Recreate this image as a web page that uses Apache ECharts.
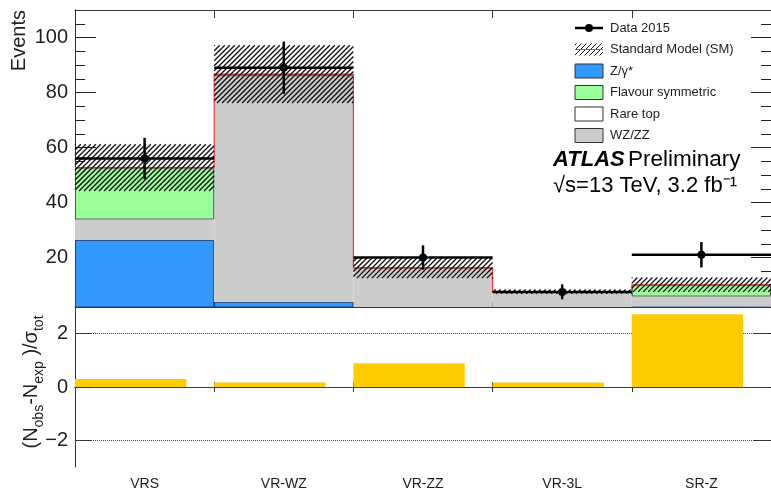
<!DOCTYPE html>
<html>
<head>
<meta charset="utf-8">
<title>Event yields per region</title>
<script src="https://cdn.jsdelivr.net/npm/echarts@6/dist/echarts.min.js"></script>
<style>
  html, body { margin: 0; padding: 0; background: #fff; }
  #chart { width: 771px; height: 491px; }
</style>
</head>
<body>
<div id="chart"></div>
<script>
// Regions (bins) along the x axis
const regions = ['VRS', 'VR-WZ', 'VR-ZZ', 'VR-3L', 'SR-Z'];

// Stacked background expectations per region
const zGamma     = [26.4, 3.9, 0, 0, 2.2];
const wzZZ       = [7.2, 81.9, 16.1, 7.3, 3.5];
const rareTop    = [0.2, 0.1, 0.1, 0.1, 0.1];
const flavourSym = [18.9, 0.8, 0, 0.2, 4.3];

// Uncertainty on the total Standard Model expectation
const smError = [8.5, 10.5, 3.7, 0.8, 2.6];

// Observed data and its statistical error
const data2015  = [56, 89, 20, 7.5, 21];
const dataError = [7.5, 9.5, 4.4, 2.7, 4.6];

// Significance (N_obs - N_exp) / sigma_tot
const pull = [0.3, 0.17, 0.89, 0.17, 2.73];

// Axis tick values
const eventTicks      = [20, 40, 60, 80, 100];
const eventMinorTicks = [5, 10, 15, 25, 30, 35, 45, 50, 55, 65, 70, 75, 85, 90, 95, 105];
const pullTicks       = [-2, 0, 2];

// Legend entries
const legendNames = ['Data 2015', 'Standard Model (SM)', 'Z/\u03b3*', 'Flavour symmetric', 'Rare top', 'WZ/ZZ'];

const FONT = '"Liberation Sans", Arial, Helvetica, sans-serif';
const TXT = '#1e1e1e';
const C_BLUE = '#3399ff', C_GREEN = '#99ff99', C_GRAY = '#cccccc', C_RED = '#ff3333', C_YELLOW = '#ffcc00';
const HATCH_STEP = 5;

const smTotal = regions.map((_, i) => zGamma[i] + wzZZ[i] + rareTop[i] + flavourSym[i]);

function stackBar(name, values, color, border) {
  return {
    name, type: 'bar', stack: 'sm', xAxisIndex: 0, yAxisIndex: 0,
    data: values, barCategoryGap: '0%', barGap: '-100%', clip: true, silent: true,
    itemStyle: { color, borderColor: border || color, borderWidth: border ? 1 : 0 },
    z: 2
  };
}

function valueAxis(grid, pos, min, max, ticks, len, labels) {
  return {
    type: 'value', gridIndex: grid, position: pos, min, max,
    splitLine: { show: false },
    axisLine: { show: true, lineStyle: { color: '#333', width: 1 } },
    axisTick: { show: true, inside: true, length: len, customValues: ticks, lineStyle: { color: '#222', width: 1 } },
    axisLabel: labels ? {
      show: true, customValues: ticks, margin: 7, fontFamily: FONT, fontSize: 20, color: TXT,
      formatter: v => (v < 0 ? '\u2212' + (-v) : String(v))
    } : { show: false }
  };
}

function catAxis(grid, pos, len, labels) {
  return {
    type: 'category', gridIndex: grid, position: pos, data: regions,
    axisLine: { show: true, lineStyle: { color: '#333', width: 1 } },
    axisTick: { show: true, inside: true, length: len, lineStyle: { color: '#333' } },
    axisLabel: labels ? { show: true, margin: 10, fontFamily: FONT, fontSize: 14, color: TXT } : { show: false },
    splitLine: { show: false }
  };
}

// "/" hatch strokes (x + y = const) clipped to a rectangle
function hatchStrokes(xl, yt, xr, yb, step, lineWidth) {
  const out = [];
  const cStart = Math.ceil((xl + yt) / step) * step;
  for (let c = cStart; c < xr + yb; c += step) {
    const xa = Math.max(xl, c - yb), xb = Math.min(xr, c - yt);
    if (xa < xb) {
      out.push({ type: 'line', shape: { x1: xa, y1: c - xa, x2: xb, y2: c - xb },
                 style: { stroke: '#111', lineWidth }, silent: true });
    }
  }
  return out;
}

function legendGraphics() {
  const x0 = 575, w = 28, tx = 610, y0 = 28, gap = 21.5;
  const g = [];
  const swatchFill = [null, null, C_BLUE, C_GREEN, '#ffffff', C_GRAY];
  legendNames.forEach((name, i) => {
    const cy = y0 + i * gap;
    if (i === 0) {
      g.push({ type: 'line', shape: { x1: x0, y1: cy, x2: x0 + w, y2: cy }, style: { stroke: '#000', lineWidth: 2.5 } });
      g.push({ type: 'circle', shape: { cx: x0 + w / 2, cy, r: 4 }, style: { fill: '#000' } });
    } else if (i === 1) {
      hatchStrokes(x0, cy - 6, x0 + w, cy + 6, 5, 1).forEach(e => g.push(e));
      g.push({ type: 'line', shape: { x1: x0, y1: cy, x2: x0 + w, y2: cy }, style: { stroke: C_RED, lineWidth: 1 } });
    } else {
      g.push({ type: 'rect', shape: { x: x0, y: cy - 7, width: w, height: 14 }, style: { fill: swatchFill[i], stroke: '#333', lineWidth: 1 } });
    }
    g.push({ type: 'text', x: tx, y: cy, style: { text: name, font: `13px ${FONT}`, fill: TXT, align: 'left', verticalAlign: 'middle' } });
  });
  return g;
}

const chart = echarts.init(document.getElementById('chart'), null, { renderer: 'canvas' });

const option = {
  animation: false,
  backgroundColor: '#ffffff',
  grid: [
    { left: 75, right: -4, top: 10, height: 297 },
    { left: 75, right: -4, top: 307, height: 160 }
  ],
  xAxis: [
    catAxis(0, 'bottom', 5, false),
    catAxis(0, 'top', 8, false),
    catAxis(1, 'bottom', 5, true),
    catAxis(1, 'top', 5, false)
  ],
  yAxis: [
    valueAxis(0, 'left', 2, 110, eventTicks, 21, true),
    valueAxis(0, 'left', 2, 110, eventMinorTicks, 10, false),
    valueAxis(0, 'right', 2, 110, eventTicks, 20, false),
    valueAxis(0, 'right', 2, 110, eventMinorTicks, 10, false),
    valueAxis(1, 'left', -3, 3, pullTicks, 17, true),
    valueAxis(1, 'right', -3, 3, pullTicks, 17, false)
  ],
  series: [
    stackBar('Z/\u03b3*', zGamma, C_BLUE, '#1f3f7a'),
    stackBar('WZ/ZZ', wzZZ, C_GRAY, null),
    stackBar('Rare top', rareTop, '#ffffff', null),
    stackBar('Flavour symmetric', flavourSym, C_GREEN, '#555555'),
    // SM total outline drawn as a step histogram
    {
      name: 'SM total', type: 'custom', xAxisIndex: 0, yAxisIndex: 0, z: 4, silent: true,
      data: smTotal.map((t, i) => [i, t, i > 0 ? smTotal[i - 1] : t]),
      encode: { x: 0, y: 1 },
      renderItem(params, api) {
        const i = api.value(0);
        const p = api.coord([i, api.value(1)]);
        const prevY = api.coord([i, api.value(2)])[1];
        const w = api.size([1, 0])[0];
        const l = p[0] - w / 2, r = p[0] + w / 2;
        return {
          type: 'polyline',
          shape: { points: [[l, prevY], [l, p[1]], [r, p[1]]] },
          style: { stroke: C_RED, lineWidth: 1.2, fill: null }
        };
      }
    },
    // Hatched SM uncertainty band (total +/- error)
    {
      name: 'Standard Model (SM)', type: 'custom', xAxisIndex: 0, yAxisIndex: 0, z: 5, silent: true,
      data: smTotal.map((t, i) => [i, t, smError[i]]),
      encode: { x: 0, y: 1 },
      renderItem(params, api) {
        const i = api.value(0), t = api.value(1), e = api.value(2);
        const c = api.coord([i, t]);
        const w = api.size([1, 0])[0];
        const yt = api.coord([i, t + e])[1], yb = api.coord([i, t - e])[1];
        return { type: 'group', children: hatchStrokes(c[0] - w / 2, yt, c[0] + w / 2, yb, HATCH_STEP, 1.35) };
      }
    },
    // Observed data with error bars
    {
      name: 'Data 2015', type: 'custom', xAxisIndex: 0, yAxisIndex: 0, z: 10, silent: true,
      data: data2015.map((v, i) => [i, v, dataError[i]]),
      encode: { x: 0, y: 1 },
      renderItem(params, api) {
        const i = api.value(0), v = api.value(1), e = api.value(2);
        const p = api.coord([i, v]);
        const w = api.size([1, 0])[0];
        const yTop = api.coord([i, v + e])[1], yBot = api.coord([i, v - e])[1];
        return {
          type: 'group',
          children: [
            { type: 'line', shape: { x1: p[0] - w / 2, y1: p[1], x2: p[0] + w / 2, y2: p[1] }, style: { stroke: '#000', lineWidth: 2.5 } },
            { type: 'line', shape: { x1: p[0], y1: yTop, x2: p[0], y2: yBot }, style: { stroke: '#000', lineWidth: 2.5 } },
            { type: 'circle', shape: { cx: p[0], cy: p[1], r: 4 }, style: { fill: '#000' } }
          ]
        };
      }
    },
    // Dotted reference lines in the significance panel
    {
      name: 'reference', type: 'line', xAxisIndex: 2, yAxisIndex: 4, data: [], silent: true, z: 1,
      markLine: {
        silent: true, z: 1, symbol: ['none', 'none'], label: { show: false },
        lineStyle: { type: 'dotted', color: '#444', width: 1 },
        data: pullTicks.map(v => ({ yAxis: v }))
      }
    },
    // Significance bars, left-aligned in each bin
    {
      name: 'Significance', type: 'custom', xAxisIndex: 2, yAxisIndex: 4, z: 5, silent: true,
      data: pull.map((v, i) => [i, v]),
      encode: { x: 0, y: 1 },
      renderItem(params, api) {
        const i = api.value(0), v = api.value(1);
        const p = api.coord([i, v]);
        const y0 = api.coord([i, 0])[1];
        const w = api.size([1, 0])[0];
        return {
          type: 'rect',
          shape: { x: p[0] - w / 2, y: Math.min(p[1], y0), width: w * 0.8, height: Math.abs(y0 - p[1]) },
          style: { fill: C_YELLOW }
        };
      }
    }
  ],
  graphic: [
    {
      type: 'text', x: 19, y: 10, rotation: Math.PI / 2,
      style: { text: 'Events', font: `20px ${FONT}`, fill: TXT, align: 'right', verticalAlign: 'middle' }
    },
    {
      type: 'text', x: 31, y: 382, rotation: Math.PI / 2,
      style: {
        text: '{m|(N}{s|obs}{m|-N}{s|exp}{m| )/\u03c3}{s|tot}',
        align: 'center', verticalAlign: 'middle',
        rich: {
          m: { font: `20px ${FONT}`, fill: TXT, lineHeight: 20, verticalAlign: 'top' },
          s: { font: `14px ${FONT}`, fill: TXT, lineHeight: 14, padding: [16, 0, 0, 0] }
        }
      }
    },
    {
      type: 'text', x: 553, y: 160,
      style: {
        text: '{a|ATLAS} {b|Preliminary}', verticalAlign: 'middle',
        rich: {
          a: { font: `italic bold 22px ${FONT}`, fill: '#000' },
          b: { font: `22.5px ${FONT}`, fill: '#000' }
        }
      }
    },
    {
      type: 'text', x: 553, y: 186,
      style: { text: '\u221as=13 TeV, 3.2 fb\u207b\u00b9', font: `22px ${FONT}`, fill: '#000', verticalAlign: 'middle' }
    }
  ].concat(legendGraphics())
};

chart.setOption(option);
</script>
</body>
</html>
